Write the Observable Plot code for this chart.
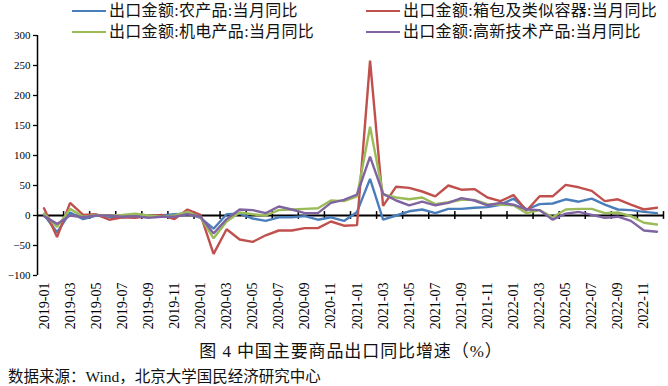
<!DOCTYPE html>
<html><head><meta charset="utf-8">
<script src="https://cdn.jsdelivr.net/npm/d3@7"></script>
<script src="https://cdn.jsdelivr.net/npm/@observablehq/plot@0.6"></script>
<style>
body{margin:0;background:#fff;}
#wrap{position:relative;width:668px;height:386px;overflow:hidden;background:#fff;}
#wrap svg{position:absolute;left:0;top:0;}
.leg{position:absolute;font-family:"Liberation Serif","Noto Sans CJK SC",serif;font-size:16px;line-height:17px;letter-spacing:0.3px;white-space:nowrap;color:#111;}
.sw{position:absolute;height:0;border-top:2.5px solid;}
.cap{position:absolute;font-family:"Liberation Serif","Noto Sans CJK SC",serif;white-space:nowrap;color:#111;}
</style></head>
<body><div id="wrap"></div>
<script>
const months = ["2019-01","2019-02","2019-03","2019-04","2019-05","2019-06","2019-07","2019-08","2019-09","2019-10","2019-11","2019-12",
"2020-01","2020-02","2020-03","2020-04","2020-05","2020-06","2020-07","2020-08","2020-09","2020-10","2020-11","2020-12",
"2021-01","2021-02","2021-03","2021-04","2021-05","2021-06","2021-07","2021-08","2021-09","2021-10","2021-11","2021-12",
"2022-01","2022-02","2022-03","2022-04","2022-05","2022-06","2022-07","2022-08","2022-09","2022-10","2022-11","2022-12"];
const seriesNames = ["出口金额:农产品:当月同比","出口金额:箱包及类似容器:当月同比","出口金额:机电产品:当月同比","出口金额:高新技术产品:当月同比"];
const seriesColors = ["#4A7EBB","#C0504D","#9BBB59","#8064A2"];
const agri = [1,-28,5,-6,0,-2,-3,0,-2,0,2,3,-4,-22,2,3,-5,-9,-3,-3,-1,-7,-3,-9,6,61,-7,0,7,10,4,11,11,13,14,18,28,10,19,20,27,23,28,18,10,9,6,4];
const bags = [12,-36,21,1,2,-7,-3,-4,-1,1,-6,10,1,-64,-23,-40,-44,-33,-25,-25,-21,-21,-10,-17,-16,258,16,48,46,40,32,50,43,44,30,24,34,8,32,32,51,47,41,24,27,18,10,13];
const mech = [3,-19,11,-2,1,0,1,3,0,-2,0,6,-3,-38,-10,5,2,0,9,10,11,12,25,24,32,148,35,30,27,30,19,22,26,26,19,18,17,4,9,-3,10,11,11,4,5,-1,-12,-15];
const hitech = [-1,-14,0,-3,0,0,-2,-1,-4,-2,-2,2,-2,-30,-6,10,9,4,15,10,4,4,21,26,35,98,36,25,17,23,17,21,29,25,17,21,18,10,9,-7,3,6,1,-4,-2,-9,-25,-27];
const yTicks = [-100,-50,0,50,100,150,200,250,300];
const caption = "图 4  中国主要商品出口同比增速（%）";
const source = "数据来源：Wind，北京大学国民经济研究中心";

const allSeries = [agri, bags, mech, hitech];
const rows = allSeries.flatMap((vals, s) => vals.map((v, i) => ({i, v, s: seriesNames[s]})));
const labelIdx = months.map((m, i) => i).filter(i => i % 2 === 0);
const tickPos = months.map((m, i) => i + 0.5).filter((t, k) => k % 2 === 1);

const plot = Plot.plot({
  width: 668, height: 386,
  marginLeft: 37, marginRight: 5, marginTop: 35, marginBottom: 111,
  style: {fontFamily: "Liberation Serif", fontSize: "11px", color: "#000", background: "transparent"},
  x: {type: "linear", domain: [-0.5, 47.5], axis: null},
  y: {domain: [-100, 300], axis: null},
  color: {domain: seriesNames, range: seriesColors},
  marks: [
    Plot.axisY(yTicks, {label: null, tickSize: 4, tickPadding: 3, stroke: "#000", strokeWidth: 1.3, fontSize: 11, fontFamily: "Liberation Serif"}),
    Plot.ruleX([-0.5], {y1: -100, y2: 300, stroke: "#000", strokeWidth: 1.5}),
    Plot.ruleY([0], {stroke: "#000", strokeWidth: 1.8}),
    Plot.ruleX(tickPos, {x: d => d, y1: -6.5, y2: 6.5, stroke: "#000", strokeWidth: 1.5}),
    Plot.line(rows, {x: "i", y: "v", z: "s", stroke: "s", strokeWidth: 2.4, strokeLinejoin: "miter", curve: "linear"}),
    Plot.text(labelIdx, {x: d => d, y: -100, text: d => months[d], rotate: -90, textAnchor: "end", dy: 7, fontSize: 14, fontFamily: "Liberation Serif", fill: "#000"})
  ]
});
const wrap = document.getElementById("wrap");
wrap.appendChild(plot);

const legPos = [[72, 11], [366, 11], [72, 32], [366, 32]];
seriesNames.forEach((n, k) => {
  const [lx, ly] = legPos[k];
  const sw = document.createElement("div");
  sw.className = "sw";
  sw.style.left = lx + "px"; sw.style.top = (ly - 1) + "px"; sw.style.width = "34px";
  sw.style.borderTopColor = seriesColors[k];
  wrap.appendChild(sw);
  const t = document.createElement("div");
  t.className = "leg";
  t.textContent = n;
  t.style.left = (lx + 37) + "px"; t.style.top = (ly - 9) + "px";
  wrap.appendChild(t);
});
const c1 = document.createElement("div");
c1.className = "cap"; c1.textContent = caption;
c1.style.fontSize = "17px"; c1.style.lineHeight = "18px"; c1.style.letterSpacing = "0.9px";
c1.style.left = "0px"; c1.style.width = "702px"; c1.style.textAlign = "center"; c1.style.top = "343px";
wrap.appendChild(c1);
const c2 = document.createElement("div");
c2.className = "cap"; c2.textContent = source;
c2.style.fontSize = "15.5px"; c2.style.lineHeight = "16px"; c2.style.left = "8px"; c2.style.top = "369px";
wrap.appendChild(c2);
</script>
</body></html>
